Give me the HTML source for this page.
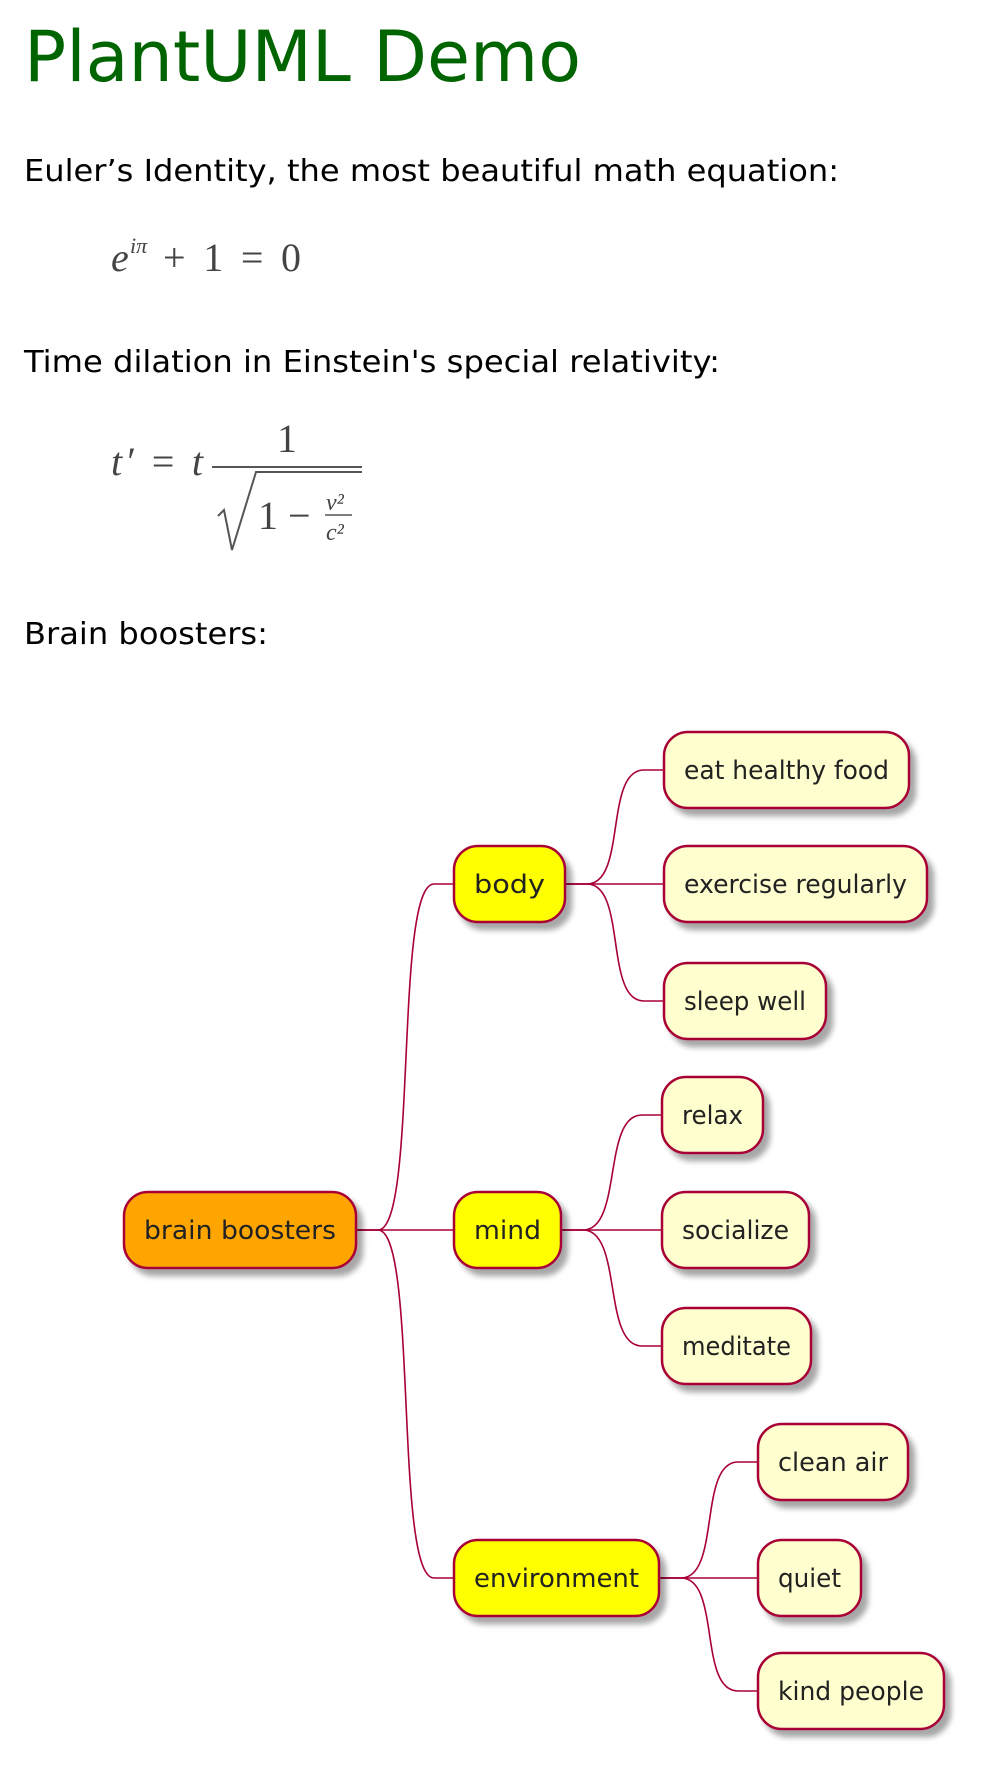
<!DOCTYPE html>
<html><head><meta charset="utf-8"><style>
html,body{margin:0;padding:0;background:#fff;width:987px;height:1770px;overflow:hidden}
svg{display:block}
</style></head><body>
<svg id="s" width="987" height="1770" viewBox="0 0 987 1770" xmlns="http://www.w3.org/2000/svg">
<defs>
<filter id="sh" x="-20%" y="-30%" width="150%" height="170%">
<feGaussianBlur in="SourceAlpha" stdDeviation="3"/><feOffset dx="6" dy="7"/>
<feComponentTransfer><feFuncA type="linear" slope="0.35"/></feComponentTransfer>
<feMerge><feMergeNode/><feMergeNode in="SourceGraphic"/></feMerge>
</filter>
</defs>
<text x="24" y="81" font-family="DejaVu Sans, sans-serif" font-size="70" fill="#006400" textLength="557" lengthAdjust="spacingAndGlyphs">PlantUML Demo</text>
<text x="24" y="181" font-family="DejaVu Sans, sans-serif" font-size="30" fill="#000" textLength="815" lengthAdjust="spacingAndGlyphs">Euler’s Identity, the most beautiful math equation:</text>
<g font-family="Liberation Serif, serif" fill="#444" font-size="40">
<text x="111" y="271" font-style="italic">e</text>
<text x="130" y="253" font-size="22" font-style="italic">iπ</text>
<text x="163" y="271" textLength="138" lengthAdjust="spacing">+ 1 = 0</text>
</g>
<text x="24" y="372" font-family="DejaVu Sans, sans-serif" font-size="30" fill="#000" textLength="696" lengthAdjust="spacingAndGlyphs">Time dilation in Einstein's special relativity:</text>
<g font-family="Liberation Serif, serif" fill="#444" font-size="40">
<text x="111" y="475" font-style="italic" textLength="92" lengthAdjust="spacing">t′ = t</text>
<text x="277" y="452">1</text>
<line x1="212" y1="467" x2="362" y2="467" stroke="#555" stroke-width="2"/>
<polyline points="218,516 224,510 232,550 256,472 362,472" fill="none" stroke="#555" stroke-width="2"/>
<text x="258" y="529">1 −</text>
<text x="326" y="510" font-size="24" font-style="italic">v²</text>
<line x1="325" y1="515" x2="352" y2="515" stroke="#555" stroke-width="1.5"/>
<text x="326" y="540" font-size="24" font-style="italic">c²</text>
</g>
<text x="24" y="644" font-family="DejaVu Sans, sans-serif" font-size="30" fill="#000" textLength="244" lengthAdjust="spacingAndGlyphs">Brain boosters:</text>
<g id="map"></g>
</svg>
<script>
const labels = ["brain boosters","body","mind","environment","eat healthy food","exercise regularly","sleep well","relax","socialize","meditate","clean air","quiet","kind people"];
const parents = [-1,0,0,0,1,1,1,2,2,2,3,3,3];
const levels = [0,1,1,1,2,2,2,2,2,2,2,2,2];
const lefts = [124,454,454,454,664,664,664,662,662,662,758,758,758];
const widths = [232,111,107,205,245,263,162,101,147,149,150,103,186];
const centers = [1230,884,1230,1578,770,884,1001,1115,1230,1346,1462,1578,1691];
const fills = ["#FFA500","#FFFF00","#FFFF00","#FFFF00","#FEFECE","#FEFECE","#FEFECE","#FEFECE","#FEFECE","#FEFECE","#FEFECE","#FEFECE","#FEFECE"];
const NS="http://www.w3.org/2000/svg", map=document.getElementById('map'), H=76;
for(let i=0;i<labels.length;i++){
  const p=parents[i]; if(p<0) continue;
  const x1=lefts[p]+widths[p], y1=centers[p], x2=lefts[i], y2=centers[i];
  const xm=x1+22, xe=x2-20;
  const path=document.createElementNS(NS,'path');
  path.setAttribute('d',`M${x1},${y1} L${xm},${y1} C${xm+40},${y1} ${xe-40},${y2} ${xe},${y2} L${x2},${y2}`);
  path.setAttribute('fill','none');path.setAttribute('stroke','#A80036');path.setAttribute('stroke-width','1.6');
  
  
  map.appendChild(path);
}
for(let i=0;i<labels.length;i++){
  const g=document.createElementNS(NS,'g');
  
  
  const r=document.createElementNS(NS,'rect');
  r.setAttribute('x',lefts[i]);r.setAttribute('y',centers[i]-H/2);r.setAttribute('width',widths[i]);r.setAttribute('height',H);
  r.setAttribute('rx',24);r.setAttribute('fill',fills[i]);r.setAttribute('stroke','#A80036');r.setAttribute('stroke-width','2.5');
  r.setAttribute('filter','url(#sh)');
  g.appendChild(r);
  const t=document.createElementNS(NS,'text');
  t.setAttribute('x',lefts[i]+20);t.setAttribute('y',centers[i]+9);
  t.setAttribute('font-family','DejaVu Sans, sans-serif');t.setAttribute('font-size','26');t.setAttribute('fill','#222');
  t.setAttribute('textLength',widths[i]-40);t.setAttribute('lengthAdjust','spacingAndGlyphs');
  t.textContent=labels[i];
  g.appendChild(t);
  map.appendChild(g);
}
</script>
</body></html>
